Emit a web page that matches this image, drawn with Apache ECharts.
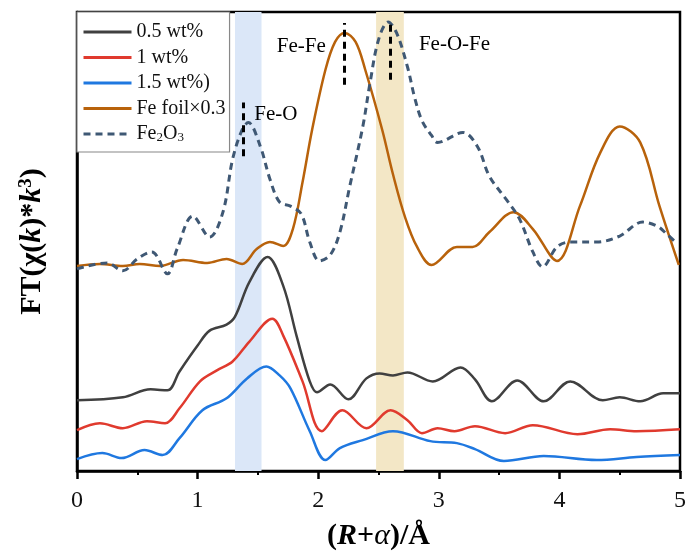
<!DOCTYPE html>
<html>
<head>
<meta charset="utf-8">
<script src="https://cdn.jsdelivr.net/npm/echarts@6/dist/echarts.min.js"></script>
<style>
  html, body { margin: 0; padding: 0; background: #fff; }
  #chart { width: 690px; height: 556px; }
</style>
</head>
<body>
<div id="chart"></div>
<script>
// [R (Å), FT magnitude (a.u.)]
const wt05 = [
  [0, 0.71], [0.38, 0.74], [0.61, 0.82], [0.75, 0.81], [0.85, 1.00], [1.00, 1.26],
  [1.10, 1.41], [1.24, 1.47], [1.31, 1.55], [1.43, 1.90], [1.58, 2.15], [1.71, 1.86],
  [1.82, 1.36], [1.93, 0.90], [1.99, 0.79], [2.10, 0.87], [2.25, 0.72], [2.40, 0.93],
  [2.51, 0.98], [2.62, 0.96], [2.74, 0.99], [2.95, 0.90], [3.18, 1.04], [3.30, 0.92],
  [3.44, 0.70], [3.65, 0.91], [3.87, 0.70], [4.09, 0.90], [4.36, 0.71], [4.50, 0.74],
  [4.67, 0.70], [4.86, 0.78], [5, 0.78]
];
const wt1 = [
  [0, 0.41], [0.19, 0.48], [0.38, 0.43], [0.58, 0.50], [0.73, 0.48], [0.85, 0.63],
  [1.02, 0.90], [1.16, 1.01], [1.29, 1.10], [1.43, 1.30], [1.62, 1.53], [1.71, 1.36],
  [1.87, 0.90], [2.03, 0.40], [2.20, 0.61], [2.40, 0.43], [2.60, 0.61], [2.74, 0.51],
  [2.86, 0.38], [2.99, 0.43], [3.13, 0.40], [3.30, 0.45], [3.55, 0.38], [3.78, 0.46],
  [4.15, 0.37], [4.42, 0.42], [4.64, 0.40], [5, 0.42]
];
const wt15 = [
  [0, 0.12], [0.21, 0.18], [0.37, 0.13], [0.56, 0.21], [0.71, 0.16], [0.85, 0.33],
  [1.04, 0.61], [1.24, 0.73], [1.41, 0.93], [1.57, 1.05], [1.68, 0.96], [1.77, 0.83],
  [1.93, 0.40], [2.06, 0.11], [2.18, 0.23], [2.37, 0.31], [2.62, 0.40], [2.93, 0.30],
  [3.15, 0.28], [3.30, 0.22], [3.54, 0.10], [3.87, 0.15], [4.31, 0.11], [4.64, 0.14],
  [5, 0.16]
];
const feFoil = [
  [0, 2.06], [0.19, 2.08], [0.38, 2.06], [0.52, 2.08], [0.69, 2.06], [0.88, 2.12],
  [1.08, 2.09], [1.24, 2.13], [1.37, 2.08], [1.49, 2.23], [1.60, 2.30], [1.71, 2.26],
  [1.79, 2.43], [1.87, 2.90], [1.95, 3.43], [2.06, 4.03], [2.14, 4.31], [2.22, 4.40],
  [2.31, 4.31], [2.39, 4.03], [2.53, 3.43], [2.62, 2.98], [2.72, 2.55], [2.82, 2.25],
  [2.94, 2.07], [3.15, 2.25], [3.28, 2.25], [3.42, 2.40], [3.62, 2.60], [3.78, 2.43],
  [3.98, 2.11], [4.17, 2.66], [4.34, 3.20], [4.50, 3.46], [4.67, 3.30], [4.83, 2.66],
  [4.99, 2.07]
];
const fe2o3 = [
  [0, 2.03], [0.25, 2.09], [0.38, 2.01], [0.50, 2.13], [0.62, 2.20], [0.75, 1.98],
  [0.83, 2.23], [0.96, 2.56], [1.10, 2.35], [1.21, 2.60], [1.29, 3.13], [1.37, 3.43],
  [1.42, 3.50], [1.52, 3.26], [1.60, 2.93], [1.68, 2.70], [1.77, 2.66], [1.86, 2.58],
  [1.93, 2.30], [2.01, 2.11], [2.10, 2.17], [2.18, 2.40], [2.26, 2.85], [2.37, 3.46],
  [2.43, 3.90], [2.50, 4.33], [2.58, 4.51], [2.65, 4.40], [2.74, 4.06], [2.80, 3.75],
  [2.86, 3.52], [2.94, 3.37], [2.99, 3.30], [3.20, 3.40], [3.32, 3.26], [3.42, 2.96],
  [3.57, 2.71], [3.67, 2.53], [3.78, 2.20], [3.86, 2.05], [3.98, 2.25], [4.09, 2.30],
  [4.31, 2.30], [4.50, 2.36], [4.69, 2.50], [4.81, 2.46], [4.89, 2.38], [4.98, 2.28]
];
const seriesNames = ['0.5 wt%', '1 wt%', '1.5 wt%)', 'Fe foil×0.3', 'Fe2O3'];
const seriesColors = ['#404040', '#e03a2e', '#1f78e0', '#b8620b', '#3f5874'];
// shaded R ranges
const bands = [[1.31, 1.53, '#dbe7f8'], [2.48, 2.71, '#f3e7c6']];
// vertical dashed peak markers [x, y from, y to]
const peakMarks = [[1.38, 3.16, 3.70], [2.22, 3.88, 4.50], [2.60, 3.93, 4.53]];
// peak labels [x, y, text, align]
const peakLabels = [[1.47, 3.58, 'Fe-O', 'left'], [1.86, 4.26, 'Fe-Fe', 'center'], [3.13, 4.28, 'Fe-O-Fe', 'center']];

const serif = 'Liberation Serif';
const chart = echarts.init(document.getElementById('chart'));

const lineSeries = [wt05, wt1, wt15, feFoil, fe2o3].map((d, i) => ({
  name: seriesNames[i],
  type: 'line',
  data: d,
  smooth: 0.35,
  showSymbol: false,
  symbol: 'none',
  z: 3,
  lineStyle: i === 4
    ? { width: 3, color: seriesColors[i], type: [7, 5] }
    : { width: 2.5, color: seriesColors[i] },
  itemStyle: { color: seriesColors[i] }
}));

// bands + markers sit on the first series
lineSeries[0].markArea = {
  silent: true,
  z: 1,
  data: bands.map(b => [{ xAxis: b[0], itemStyle: { color: b[2] } }, { xAxis: b[1] }])
};
lineSeries[0].markLine = {
  silent: true,
  symbol: 'none',
  label: { show: false },
  lineStyle: { color: '#000', width: 3, type: [7, 5] },
  data: peakMarks.map(m => [{ coord: [m[0], m[1]] }, { coord: [m[0], m[2]] }])
};

const labelSeries = {
  type: 'scatter',
  symbolSize: 0,
  silent: true,
  itemStyle: { opacity: 1 },
  data: peakLabels.map(p => ({
    value: [p[0], p[1]],
    label: {
      show: true,
      position: 'inside',
      align: p[3],
      formatter: p[2],
      fontFamily: serif,
      fontSize: 21,
      color: '#000'
    }
  }))
};

const option = {
  animation: false,
  backgroundColor: '#fff',
  grid: {
    left: 77, right: 10, top: 12, bottom: 83,
    show: true,
    borderColor: '#000',
    borderWidth: 2.5
  },
  legend: {
    data: seriesNames,
    orient: 'vertical',
    left: 77,
    top: 12,
    itemWidth: 48,
    itemHeight: 14,
    itemGap: 5.5,
    padding: [10, 4, 8, 5],
    borderColor: '#888',
    borderWidth: 1.2,
    backgroundColor: '#fff',
    itemStyle: { opacity: 0 },
    lineStyle: { width: 3 },
    textStyle: {
      fontFamily: serif,
      fontSize: 20,
      lineHeight: 20,
      color: '#111',
      rich: {
        n: { fontFamily: serif, fontSize: 20, color: '#111' },
        s: { fontFamily: serif, fontSize: 13, color: '#111', verticalAlign: 'bottom', padding: [6, 0, 0, 0] }
      }
    },
    formatter: name => name === 'Fe2O3' ? '{n|Fe}{s|2}{n|O}{s|3}' : name
  },
  xAxis: {
    type: 'value',
    min: 0,
    max: 5,
    interval: 1,
    name: '{b|(}{bi|R}{b|+}{i|α}{b|)/Å}',
    nameLocation: 'middle',
    nameGap: 50,
    nameTextStyle: {
      rich: {
        b: { fontFamily: serif, fontWeight: 'bold', fontSize: 30, color: '#000' },
        bi: { fontFamily: serif, fontWeight: 'bold', fontStyle: 'italic', fontSize: 30, color: '#000' },
        i: { fontFamily: serif, fontStyle: 'italic', fontSize: 30, color: '#000' }
      }
    },
    axisLine: { show: true, lineStyle: { color: '#000', width: 2.5 } },
    axisTick: { show: true, inside: false, length: 8, lineStyle: { color: '#000', width: 2.5 } },
    minorTick: { show: true, splitNumber: 2, length: 4, lineStyle: { color: '#000', width: 2 } },
    axisLabel: { fontFamily: serif, fontSize: 24, color: '#111', margin: 18 },
    splitLine: { show: false }
  },
  yAxis: {
    type: 'value',
    min: 0,
    max: 4.61,
    name: '{b|FT(χ(}{bi|k}{b|)*}{bi|k}{sup|3}{b|)}',
    nameLocation: 'middle',
    nameRotate: 90,
    nameGap: 30,
    nameTextStyle: {
      rich: {
        b: { fontFamily: serif, fontWeight: 'bold', fontSize: 30, color: '#000' },
        bi: { fontFamily: serif, fontWeight: 'bold', fontStyle: 'italic', fontSize: 30, color: '#000' },
        sup: { fontFamily: serif, fontWeight: 'bold', fontSize: 19, color: '#000', verticalAlign: 'top', padding: [0, 0, 10, 0] }
      }
    },
    axisLine: { show: true, lineStyle: { color: '#000', width: 2.5 } },
    axisTick: { show: false },
    axisLabel: { show: false },
    splitLine: { show: false }
  },
  series: [...lineSeries, labelSeries]
};

chart.setOption(option);
</script>
</body>
</html>
